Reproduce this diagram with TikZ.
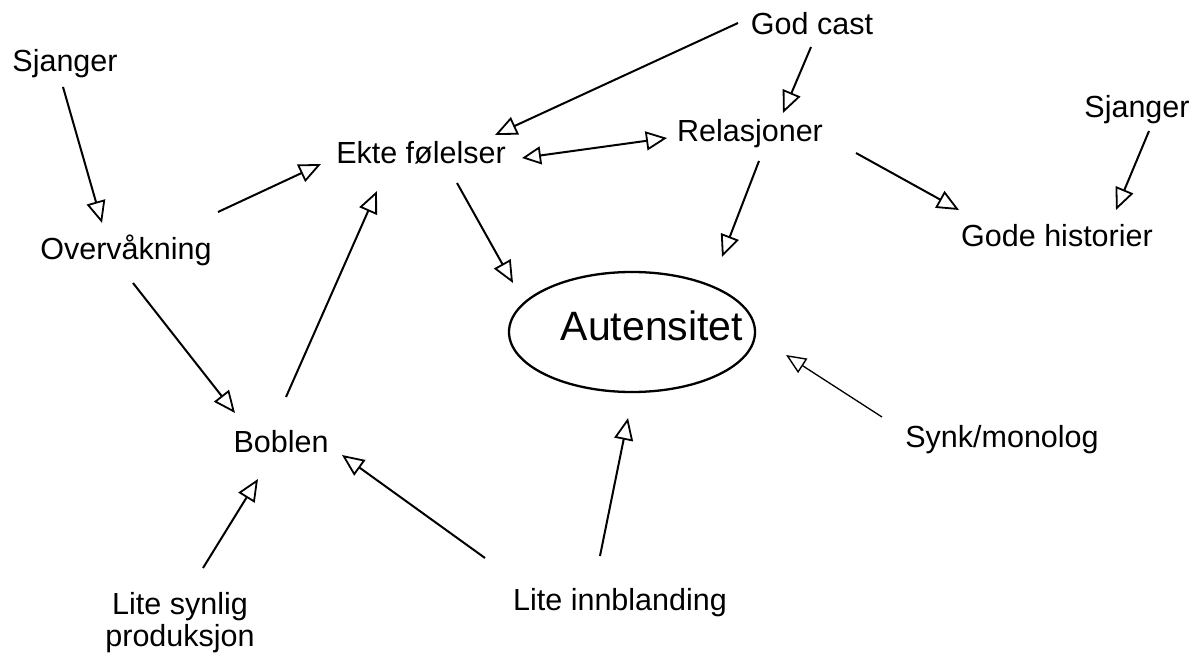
\documentclass[tikz,border=0pt]{standalone}
\usepackage{fontspec}
\setmainfont{Liberation Sans}
\usetikzlibrary{arrows.meta,shapes.geometric}
\begin{document}
\begin{tikzpicture}[x=1pt,y=-1pt,
  lbl/.style={font=\fontsize{30.5}{33}\selectfont, inner sep=0pt, anchor=base},
  arr/.style={line width=2pt, -{Triangle[open,length=22pt,width=19pt,line width=1.8pt]}},
  thinarr/.style={line width=1.3pt, -{Triangle[open,length=20pt,width=17pt,line width=1.4pt]}},
  darr/.style={line width=2pt, {Triangle[open,length=19pt,width=18pt,line width=1.8pt]}-{Triangle[open,length=21pt,width=19pt,line width=1.8pt]}}]
\useasboundingbox (0,0) rectangle (1202,660);
% nodes
\node[lbl] (sjl) at (65,72) {Sjanger};
\node[lbl] (ov) at (126,260) {Overvåkning};
\node[lbl] (god) at (812,35) {God cast};
\node[lbl] (rel) at (750,142) {Relasjoner};
\node[lbl] (sjr) at (1137,118) {Sjanger};
\node[lbl] (gode) at (1057,247) {Gode historier};
\node[lbl] (ekte) at (421,164) {Ekte følelser};
\node[lbl] (bob) at (281,452) {Boblen};
\node[lbl] (synk) at (1002,447) {Synk/monolog};
\node[lbl] (inn) at (620,610) {Lite innblanding};
\node[font=\fontsize{30.5}{32}\selectfont, inner sep=0pt, align=center] (syn) at (180,623) {Lite synlig\\produksjon};
\node[ellipse, draw, line width=2.3pt, minimum width=246pt, minimum height=120pt, inner sep=0pt] (aut) at (632,332) {};
\node[font=\fontsize{41}{44}\selectfont, inner sep=0pt, anchor=base] (autt) at (652,340) {Autensitet};
% connectors
\draw[arr] ([shift={(-2,15)}]sjl.base) -- ([shift={(-24,-37)}]ov.base);
\draw[arr] ([shift={(92,-48)}]ov.base) -- ([shift={(-100,0)}]ekte.base);
\draw[arr] ([shift={(7,23)}]ov.base) -- ([shift={(-46,-39)}]bob.base);
\draw[arr] ([shift={(5,-55)}]bob.base) -- ([shift={(-44,27)}]ekte.base);
\draw[arr] ([shift={(-74,-12)}]god.base) -- ([shift={(74,-29)}]ekte.base);
\draw[arr] ([shift={(-1,12)}]god.base) -- ([shift={(33,-29)}]rel.base);
\draw[darr] ([shift={(101,-6)}]ekte.base) -- ([shift={(-83,-4)}]rel.base);
\draw[arr] ([shift={(36,19)}]ekte.base) -- ([shift={(-119,-49)}]aut.center);
\draw[arr] ([shift={(9,19)}]rel.base) -- ([shift={(90,-75)}]aut.center);
\draw[arr] ([shift={(106,11)}]rel.base) -- ([shift={(-98,-37)}]gode.base);
\draw[arr] ([shift={(12,13)}]sjr.base) -- ([shift={(59,-37)}]gode.base);
\draw[thinarr] ([shift={(-120,-30)}]synk.base) -- ([shift={(154,23)}]aut.center);
\draw[arr] ([shift={(-20,-54)}]inn.base) -- ([shift={(-4,86)}]aut.center);
\draw[arr] ([shift={(-135,-52)}]inn.base) -- ([shift={(61,3)}]bob.base);
\draw[arr] ([shift={(23,-55)}]syn.center) -- ([shift={(-23,27)}]bob.base);
\end{tikzpicture}
\end{document}
